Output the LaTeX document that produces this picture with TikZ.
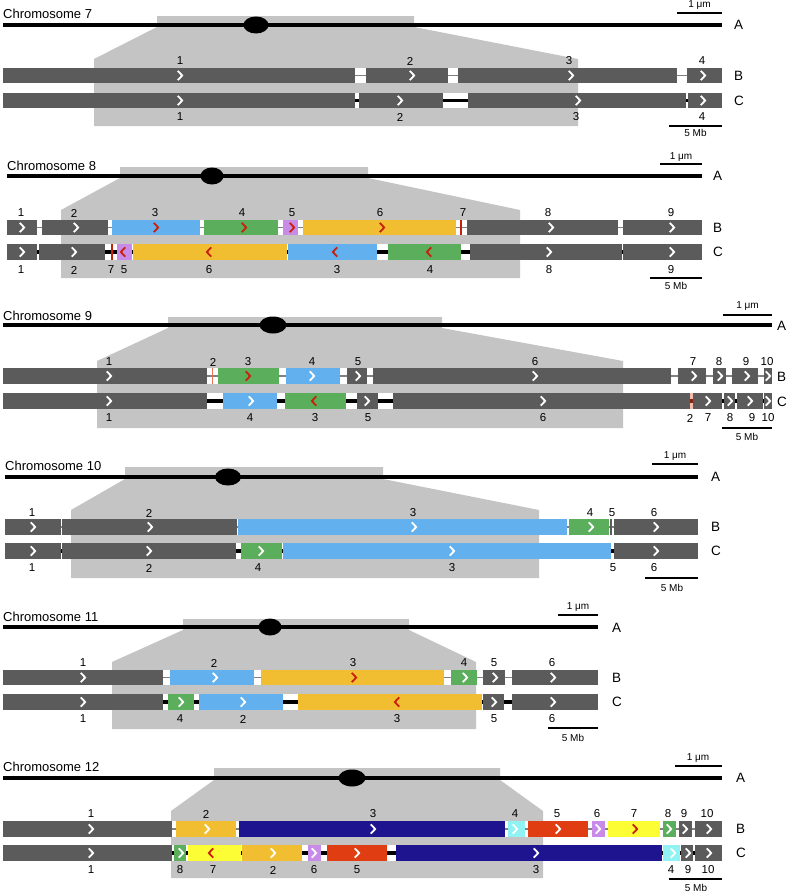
\documentclass[tikz,border=0pt]{standalone}
\usepackage{fontspec}
\setmainfont{Liberation Sans}
\definecolor{dg}{HTML}{5B5B5B}
\definecolor{rg}{HTML}{C4C4C4}
\definecolor{lb}{HTML}{62B1EE}
\definecolor{gn}{HTML}{5BAE5B}
\definecolor{pu}{HTML}{C98BE8}
\definecolor{yo}{HTML}{F0BE30}
\definecolor{nv}{HTML}{1F148F}
\definecolor{cy}{HTML}{90F2F2}
\definecolor{rd}{HTML}{E03D12}
\definecolor{ye}{HTML}{FDFD36}
\definecolor{rc}{HTML}{C8200A}
\definecolor{cg}{HTML}{808080}
\newcount\lc
\def\yy{0}
\newcommand\rowB[2]{\fill[white] (#1,\yy-7.75) rectangle (#2,\yy+7.75);\draw[cg,line width=1.2pt] (#1,\yy) -- (#2,\yy);}
\newcommand\rowC[2]{\fill[white] (#1,\yy-7.75) rectangle (#2,\yy+7.75);\draw[black,line width=3.6pt] (#1,\yy) -- (#2,\yy);}
\newcommand\sg[3]{\fill[#3] (#1,\yy-7.75) rectangle (#2,\yy+7.75);}
\newcommand\chR[2]{\draw[chev,#2] (#1-2.2,\yy-4.6) -- (#1+2.2,\yy) -- (#1-2.2,\yy+4.6);}
\newcommand\chL[2]{\draw[chev,#2] (#1+2.2,\yy-4.6) -- (#1-2.2,\yy) -- (#1+2.2,\yy+4.6);}
\newcommand\lab[3]{\global\advance\lc by 1\relax\node[lbl] (L\the\lc) at (#1,#2) {#3};}
\newcommand\rmark[2]{\draw[#2,line width=1.5pt] (#1,\yy-7.75) -- (#1,\yy+7.75);}
\begin{document}
\begin{tikzpicture}[x=1pt,y=-1pt,
  chev/.style={line width=1.8pt,line join=miter},
  lbl/.style={font=\fontsize{11.5}{13}\selectfont,inner sep=0pt},
  ttl/.style={font=\fontsize{13}{15}\selectfont,inner sep=0pt,anchor=base west},
  abc/.style={font=\fontsize{13.5}{15}\selectfont,inner sep=0pt,anchor=west},
  sct/.style={font=\fontsize{10}{11}\selectfont,inner sep=0pt},
  scl/.style={line width=1.3pt},
  chrl/.style={line width=4.5pt},
  region/.style={fill=rg}]
\useasboundingbox (0,0) rectangle (797,894);
\fill[white] (0,0) rectangle (797,894);

% ================= Chromosome 7 =================
\fill[region] (157,16) -- (414,16) -- (414,27) -- (578,59) -- (578,126) -- (94,126) -- (94,59) -- (157,27) -- cycle;
\node[ttl] (t7) at (3,18.5) {Chromosome 7};
\draw[chrl] (3,25) -- (722,25);
\fill (256,25) ellipse [x radius=12.5, y radius=8.5];
\draw[scl] (677,13) -- (722,13); \node[sct] (u7) at (699.5,5.5) {1 μm};
\draw[scl] (669,126) -- (722,126); \node[sct] (m7) at (695.5,133) {5 Mb};
\node[abc] (a7) at (734,25) {A};
\node[abc] (b7) at (734,75.5) {B};
\node[abc] (c7) at (734,100.5) {C};
\def\yy{75.5}
\rowB{3}{722}
\sg{3}{355}{dg}\sg{366}{448}{dg}\sg{458}{677}{dg}\sg{687}{722}{dg}
\chR{180}{white}\chR{412}{white}\chR{571}{white}\chR{703}{white}
\lab{180}{61}{1}\lab{410}{61}{2}\lab{569}{61}{3}\lab{702}{61}{4}
\def\yy{100.5}
\rowC{3}{722}
\sg{3}{355}{dg}\sg{359}{443}{dg}\sg{468}{686}{dg}\sg{688}{722}{dg}
\chR{180}{white}\chR{400}{white}\chR{578}{white}\chR{703}{white}
\lab{180}{117}{1}\lab{400}{117}{2}\lab{576}{117}{3}\lab{702}{117}{4}

% ================= Chromosome 8 =================
\fill[region] (120,167) -- (368,167) -- (368,178) -- (520,210) -- (520,278) -- (61,278) -- (61,210) -- (120,178) -- cycle;
\node[ttl] (t8) at (7,170) {Chromosome 8};
\draw[chrl] (7,176) -- (702,176);
\fill (212,176) ellipse [x radius=11.5, y radius=8.5];
\draw[scl] (660,164) -- (702,164); \node[sct] (u8) at (681,157) {1 μm};
\draw[scl] (650,278) -- (702,278); \node[sct] (m8) at (676,286) {5 Mb};
\node[abc] (a8) at (713,176) {A};
\node[abc] (b8) at (713,227.5) {B};
\node[abc] (c8) at (713,252) {C};
\def\yy{227.5}
\rowB{7}{702}
\sg{7}{37}{dg}\sg{42}{108}{dg}\sg{112}{200}{lb}\sg{204}{278}{gn}\sg{283}{298}{pu}\sg{303}{456}{yo}\sg{467}{618}{dg}\sg{623}{702}{dg}
\rmark{461}{rc}
\chR{22}{white}\chR{76}{white}\chR{156}{rc}\chR{244}{rc}\chR{292}{rc}\chR{382}{rc}\chR{551}{white}\chR{672}{white}
\lab{21}{213}{1}\lab{74}{213}{2}\lab{155}{213}{3}\lab{242}{213}{4}\lab{292}{213}{5}\lab{380}{213}{6}\lab{463}{213}{7}\lab{548}{213}{8}\lab{671}{213}{9}
\def\yy{252}
\rowC{7}{702}
\sg{7}{37}{dg}\sg{39}{105}{dg}\sg{117}{132}{pu}\sg{133}{287}{yo}\sg{288}{377}{lb}\sg{388}{461}{gn}\sg{470}{622}{dg}\sg{623}{702}{dg}
\rmark{112}{rc}
\chR{22}{white}\chR{74}{white}\chL{123}{rc}\chL{209}{rc}\chL{335}{rc}\chL{429}{rc}\chR{549}{white}\chR{672}{white}
\lab{21}{270}{1}\lab{74}{270}{2}\lab{111}{270}{7}\lab{124}{270}{5}\lab{209}{270}{6}\lab{337}{270}{3}\lab{430}{270}{4}\lab{549}{270}{8}\lab{671}{270}{9}

% ================= Chromosome 9 =================
\fill[region] (168,317) -- (442,317) -- (442,328) -- (623,361) -- (623,428) -- (97,428) -- (97,361) -- (168,328) -- cycle;
\node[ttl] (t9) at (3,320) {Chromosome 9};
\draw[chrl] (3,325) -- (772,325);
\fill (273,325) ellipse [x radius=13.5, y radius=8.5];
\draw[scl] (723,315) -- (772,315); \node[sct] (u9) at (747.5,306) {1 μm};
\draw[scl] (722,428) -- (772,428); \node[sct] (m9) at (747,437) {5 Mb};
\node[abc] (a9) at (777,326) {A};
\node[abc] (b9) at (777,377) {B};
\node[abc] (c9) at (777,402) {C};
\def\yy{376}
\rowB{3}{772}
\sg{3}{207}{dg}\sg{218}{279}{gn}\sg{286}{340}{lb}\sg{347}{367}{dg}\sg{373}{671}{dg}\sg{678}{706}{dg}\sg{713}{726}{dg}\sg{732}{758}{dg}\sg{764}{772}{dg}
\draw[rd!70!white,line width=1pt] (212,\yy-7.75) -- (212,\yy+7.75);
\chR{109}{white}\chR{248}{rc}\chR{312}{white}\chR{358}{white}\chR{535}{white}\chR{694}{white}\chR{720}{white}\chR{747}{white}\chR{768}{white}
\lab{109}{362}{1}\lab{213}{362}{2}\lab{248}{362}{3}\lab{312}{362}{4}\lab{358}{362}{5}\lab{535}{362}{6}\lab{693}{362}{7}\lab{719}{362}{8}\lab{746}{362}{9}\lab{767}{362}{10}
\def\yy{401}
\rowC{3}{772}
\sg{3}{207}{dg}\sg{223}{277}{lb}\sg{285}{346}{gn}\sg{357}{378}{dg}\sg{393}{690}{dg}\sg{693}{722}{dg}\sg{724}{735}{dg}\sg{737}{763}{dg}\sg{764}{772}{dg}
\fill[rd!35!white] (690,\yy-7.75) rectangle (693,\yy+7.75);
\draw[rd!60!black,line width=3.6pt] (690,\yy) -- (693,\yy);
\chR{109}{white}\chR{251}{white}\chL{314}{rc}\chR{367}{white}\chR{543}{white}\chR{708}{white}\chR{730}{white}\chR{750}{white}\chR{768}{white}
\lab{109}{418}{1}\lab{250}{418}{4}\lab{315}{418}{3}\lab{368}{418}{5}\lab{543}{418}{6}\lab{690}{418}{2}\lab{708}{418}{7}\lab{730}{418}{8}\lab{752}{418}{9}\lab{768}{418}{10}

% ================= Chromosome 10 =================
\fill[region] (125,467) -- (383,467) -- (383,479) -- (539,510) -- (539,578) -- (71,578) -- (71,510) -- (125,479) -- cycle;
\node[ttl] (t10) at (5,470.7) {Chromosome 10};
\draw[chrl] (5,477) -- (698,477);
\fill (228,477) ellipse [x radius=13, y radius=8.5];
\draw[scl] (652,464) -- (698,464); \node[sct] (u10) at (675,456) {1 μm};
\draw[scl] (645,578) -- (698,578); \node[sct] (m10) at (672,588) {5 Mb};
\node[abc] (a10) at (711,477) {A};
\node[abc] (b10) at (711,527) {B};
\node[abc] (c10) at (711,551) {C};
\def\yy{527}
\rowB{5}{698}
\sg{5}{61}{dg}\sg{62}{237}{dg}\sg{238}{567}{lb}\sg{569}{609}{gn}\sg{610.3}{611.7}{dg}\sg{614}{698}{dg}
\chR{33}{white}\chR{150}{white}\chR{414}{white}\chR{591}{white}\chR{656}{white}
\lab{32}{513}{1}\lab{149}{513}{2}\lab{413}{513}{3}\lab{590}{513}{4}\lab{612}{513}{5}\lab{654}{513}{6}
\def\yy{551}
\rowC{5}{698}
\sg{5}{61}{dg}\sg{62}{236}{dg}\sg{241}{282}{gn}\sg{283}{611}{lb}\sg{614}{698}{dg}
\chR{33}{white}\chR{149}{white}\chR{261}{white}\chR{452}{white}\chR{656}{white}
\lab{32}{568}{1}\lab{149}{568}{2}\lab{258}{568}{4}\lab{452}{568}{3}\lab{613}{568}{5}\lab{654}{568}{6}

% ================= Chromosome 11 =================
\fill[region] (183,619) -- (409,619) -- (409,630) -- (476,662) -- (476,729) -- (112,729) -- (112,662) -- (183,630) -- cycle;
\node[ttl] (t11) at (3,621) {Chromosome 11};
\draw[chrl] (3,627) -- (598,627);
\fill (270,627) ellipse [x radius=11.5, y radius=8.5];
\draw[scl] (558,615) -- (598,615); \node[sct] (u11) at (578,607) {1 μm};
\draw[scl] (548,728) -- (598,728); \node[sct] (m11) at (573,738) {5 Mb};
\node[abc] (a11) at (612,628) {A};
\node[abc] (b11) at (612,678) {B};
\node[abc] (c11) at (612,702) {C};
\def\yy{677.5}
\rowB{3}{598}
\sg{3}{163}{dg}\sg{170}{254}{lb}\sg{261}{444}{yo}\sg{451}{477}{gn}\sg{483}{505}{dg}\sg{512}{598}{dg}
\chR{83}{white}\chR{215}{white}\chR{354}{rc}\chR{465}{white}\chR{495}{white}\chR{553}{white}
\lab{83}{663}{1}\lab{214}{663}{2}\lab{353}{663}{3}\lab{464}{663}{4}\lab{494}{663}{5}\lab{552}{663}{6}
\def\yy{702}
\rowC{3}{598}
\sg{3}{163}{dg}\sg{168}{194}{gn}\sg{199}{283}{lb}\sg{298}{482}{yo}\sg{483}{504}{dg}\sg{512}{598}{dg}
\chR{83}{white}\chR{181}{white}\chR{243}{white}\chL{397}{rc}\chR{494}{white}\chR{553}{white}
\lab{83}{719}{1}\lab{180}{719}{4}\lab{243}{719}{2}\lab{397}{719}{3}\lab{494}{719}{5}\lab{552}{719}{6}

% ================= Chromosome 12 =================
\fill[region] (214,768) -- (500,768) -- (500,780) -- (543,811) -- (543,878) -- (171,878) -- (171,811) -- (214,780) -- cycle;
\node[ttl] (t12) at (3,771.7) {Chromosome 12};
\draw[chrl] (3,778) -- (722,778);
\fill (352,778) ellipse [x radius=13.5, y radius=8.5];
\draw[scl] (675,766) -- (722,766); \node[sct] (u12) at (698,758) {1 μm};
\draw[scl] (669,879) -- (722,879); \node[sct] (m12) at (696,888) {5 Mb};
\node[abc] (a12) at (736,778) {A};
\node[abc] (b12) at (736,829) {B};
\node[abc] (c12) at (736,853) {C};
\def\yy{829}
\rowB{3}{722}
\sg{3}{172}{dg}\sg{176}{236}{yo}\sg{239}{505}{nv}\sg{508}{525}{cy}\sg{528}{588}{rd}\sg{592}{605}{pu}\sg{608}{660}{ye}\sg{663}{676}{gn}\sg{679}{692}{dg}\sg{695}{722}{dg}
\chR{91}{white}\chR{207}{white}\chR{373}{white}\chR{515}{white}\chR{558}{white}\chR{598}{white}\chR{635}{rc}\chR{669}{white}\chR{685}{white}\chR{709}{white}
\lab{91}{814}{1}\lab{206}{814}{2}\lab{373}{814}{3}\lab{515}{814}{4}\lab{557}{814}{5}\lab{597}{814}{6}\lab{634}{814}{7}\lab{668}{814}{8}\lab{684}{814}{9}\lab{707}{814}{10}
\def\yy{853}
\rowC{3}{722}
\sg{3}{172}{dg}\sg{174}{186}{gn}\sg{188}{241}{ye}\sg{242}{302}{yo}\sg{308}{321}{pu}\sg{327}{387}{rd}\sg{396}{662}{nv}\sg{663}{680}{cy}\sg{681}{693}{dg}\sg{695}{722}{dg}
\chR{91}{white}\chR{181}{white}\chL{211}{rc}\chR{273}{white}\chR{314}{white}\chR{357}{white}\chR{536}{white}\chR{673}{white}\chR{688}{white}\chR{709}{white}
\lab{91}{870}{1}\lab{180}{870}{8}\lab{213}{870}{7}\lab{273}{870}{2}\lab{314}{870}{6}\lab{357}{870}{5}\lab{536}{870}{3}\lab{671}{870}{4}\lab{688}{870}{9}\lab{708}{870}{10}
\end{tikzpicture}
\end{document}
